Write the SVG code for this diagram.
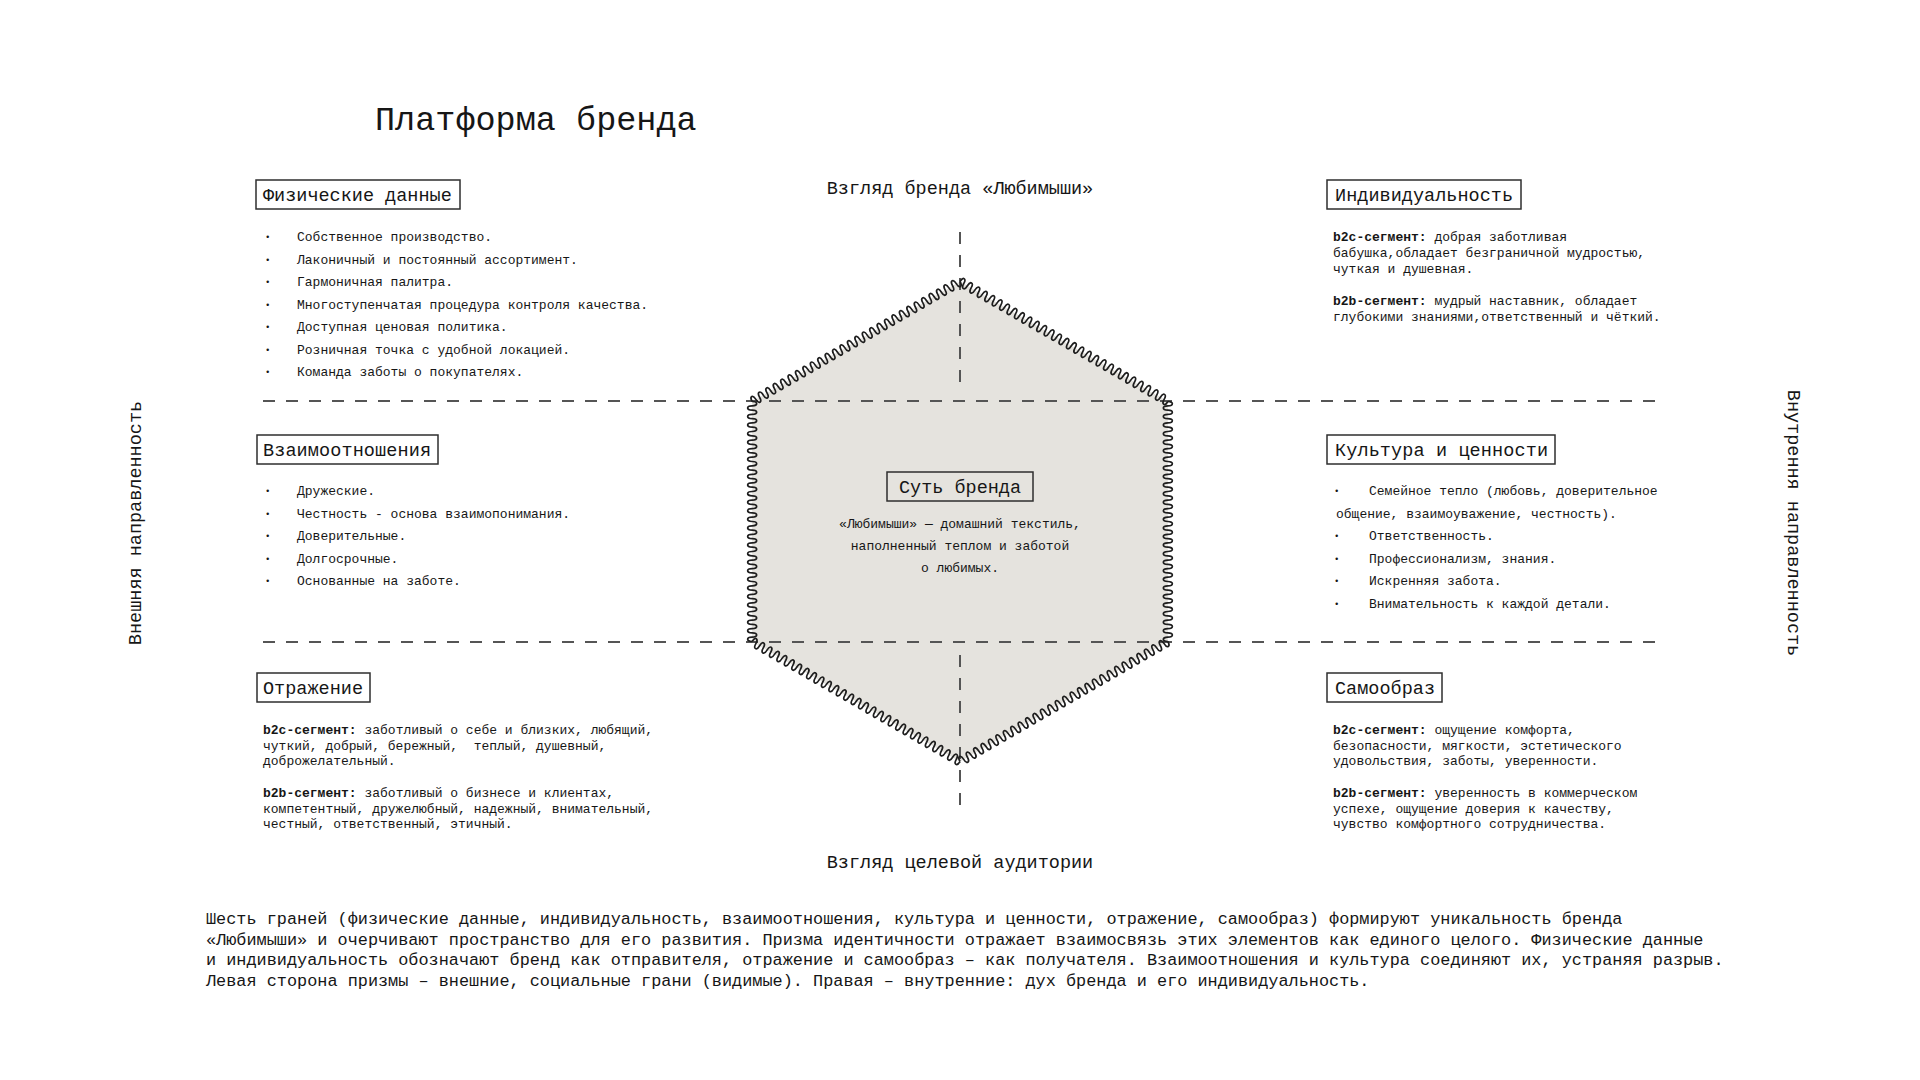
<svg xmlns="http://www.w3.org/2000/svg" xmlns:xlink="http://www.w3.org/1999/xlink" width="1920" height="1080" viewBox="0 0 1920 1080">
<style>
text{font-family:"Liberation Mono","DejaVu Sans Mono",monospace;fill:#161616;white-space:pre}
.title{font-size:33.5px}
.lbl{font-size:18.5px}
.body{font-size:13px}
.bul{font-size:9px}
.b{font-weight:700}
.para{font-size:16.87px}
.box{fill:#fff;stroke:#2e2e2e;stroke-width:1.5}
.cbox{fill:none;stroke:#2e2e2e;stroke-width:1.5}
.dash{stroke:#555;stroke-width:2;stroke-dasharray:12 11;fill:none}
.wave{fill:none;stroke:#1e1e1e;stroke-width:1.7}
</style>
<defs>
<path id="edge" class="wave" d="M0,0 c0,-6 4.2857,-6 4.2857,0 s4.2857,6 4.2857,0 s4.2857,-6 4.2857,0 s4.2857,6 4.2857,0 s4.2857,-6 4.2857,0 s4.2857,6 4.2857,0 s4.2857,-6 4.2857,0 s4.2857,6 4.2857,0 s4.2857,-6 4.2857,0 s4.2857,6 4.2857,0 s4.2857,-6 4.2857,0 s4.2857,6 4.2857,0 s4.2857,-6 4.2857,0 s4.2857,6 4.2857,0 s4.2857,-6 4.2857,0 s4.2857,6 4.2857,0 s4.2857,-6 4.2857,0 s4.2857,6 4.2857,0 s4.2857,-6 4.2857,0 s4.2857,6 4.2857,0 s4.2857,-6 4.2857,0 s4.2857,6 4.2857,0 s4.2857,-6 4.2857,0 s4.2857,6 4.2857,0 s4.2857,-6 4.2857,0 s4.2857,6 4.2857,0 s4.2857,-6 4.2857,0 s4.2857,6 4.2857,0 s4.2857,-6 4.2857,0 s4.2857,6 4.2857,0 s4.2857,-6 4.2857,0 s4.2857,6 4.2857,0 s4.2857,-6 4.2857,0 s4.2857,6 4.2857,0 s4.2857,-6 4.2857,0 s4.2857,6 4.2857,0 s4.2857,-6 4.2857,0 s4.2857,6 4.2857,0 s4.2857,-6 4.2857,0 s4.2857,6 4.2857,0 s4.2857,-6 4.2857,0 s4.2857,6 4.2857,0 s4.2857,-6 4.2857,0 s4.2857,6 4.2857,0 s4.2857,-6 4.2857,0 s4.2857,6 4.2857,0 s4.2857,-6 4.2857,0 s4.2857,6 4.2857,0 s4.2857,-6 4.2857,0 s4.2857,6 4.2857,0 s4.2857,-6 4.2857,0 s4.2857,6 4.2857,0 s4.2857,-6 4.2857,0 s4.2857,6 4.2857,0 s4.2857,-6 4.2857,0 s4.2857,6 4.2857,0"/>
</defs>
<rect width="1920" height="1080" fill="#fff"/>

<g id="title"><text class="title" x="375" y="130">Платформа бренда</text></g>

<g id="hexagon">
<polygon points="960,281.5 1167.85,401.5 1167.85,641.5 960,761.5 752.15,641.5 752.15,401.5" fill="#e5e3de"/>
</g>

<g id="connectors">
<line class="dash" x1="263" y1="401" x2="1659" y2="401"/>
<line class="dash" x1="263" y1="642" x2="1659" y2="642"/>
<line class="dash" x1="960" y1="232" x2="960" y2="390"/>
<line class="dash" x1="960" y1="655" x2="960" y2="812"/>
</g>

<g id="hexagon-edges">
<use xlink:href="#edge" transform="translate(960,281.5) rotate(30)"/>
<use xlink:href="#edge" transform="translate(1167.85,401.5) rotate(90)"/>
<use xlink:href="#edge" transform="translate(1167.85,641.5) rotate(150)"/>
<use xlink:href="#edge" transform="translate(960,761.5) rotate(210)"/>
<use xlink:href="#edge" transform="translate(752.15,641.5) rotate(270)"/>
<use xlink:href="#edge" transform="translate(752.15,401.5) rotate(-30)"/>
</g>

<g id="axis-top"><text class="lbl" x="960" y="194" text-anchor="middle">Взгляд бренда «Любимыши»</text></g>
<g id="axis-bottom"><text class="lbl" x="960" y="868" text-anchor="middle">Взгляд целевой аудитории</text></g>
<g id="axis-left"><text class="lbl" transform="translate(141,523) rotate(-90)" text-anchor="middle">Внешняя направленность</text></g>
<g id="axis-right"><text class="lbl" transform="translate(1788,523) rotate(90)" text-anchor="middle">Внутрення направленность</text></g>

<g id="physical">
<rect class="box" x="256" y="180" width="204" height="29"/>
<text class="lbl" x="263" y="200.5">Физические данные</text>
<text class="bul" x="265" y="240">•</text><text class="body" x="297" y="241">Собственное производство.</text>
<text class="bul" x="265" y="262.5">•</text><text class="body" x="297" y="263.5">Лаконичный и постоянный ассортимент.</text>
<text class="bul" x="265" y="285">•</text><text class="body" x="297" y="286">Гармоничная палитра.</text>
<text class="bul" x="265" y="307.5">•</text><text class="body" x="297" y="308.5">Многоступенчатая процедура контроля качества.</text>
<text class="bul" x="265" y="330">•</text><text class="body" x="297" y="331">Доступная ценовая политика.</text>
<text class="bul" x="265" y="352.5">•</text><text class="body" x="297" y="353.5">Розничная точка с удобной локацией.</text>
<text class="bul" x="265" y="375">•</text><text class="body" x="297" y="376">Команда заботы о покупателях.</text>
</g>

<g id="relations">
<rect class="box" x="257" y="435" width="181" height="29"/>
<text class="lbl" x="263" y="455.5" textLength="168">Взаимоотношения</text>
<text class="bul" x="265" y="494">•</text><text class="body" x="297" y="495">Дружеские.</text>
<text class="bul" x="265" y="516.5">•</text><text class="body" x="297" y="517.5">Честность - основа взаимопонимания.</text>
<text class="bul" x="265" y="539">•</text><text class="body" x="297" y="540">Доверительные.</text>
<text class="bul" x="265" y="561.5">•</text><text class="body" x="297" y="562.5">Долгосрочные.</text>
<text class="bul" x="265" y="584">•</text><text class="body" x="297" y="585">Основанные на заботе.</text>
</g>

<g id="reflection">
<rect class="box" x="257" y="673" width="113" height="29"/>
<text class="lbl" x="263" y="693.5" textLength="100">Отражение</text>
<text class="body" x="263" y="734"><tspan class="b">b2c-сегмент:</tspan> заботливый о себе и близких, любящий,</text>
<text class="body" x="263" y="749.5">чуткий, добрый, бережный,  теплый, душевный,</text>
<text class="body" x="263" y="765">доброжелательный.</text>
<text class="body" x="263" y="797"><tspan class="b">b2b-сегмент:</tspan> заботливый о бизнесе и клиентах,</text>
<text class="body" x="263" y="812.5">компетентный, дружелюбный, надежный, внимательный,</text>
<text class="body" x="263" y="828">честный, ответственный, этичный.</text>
</g>

<g id="personality">
<rect class="box" x="1327" y="180" width="194" height="29"/>
<text class="lbl" x="1335" y="200.5" textLength="178">Индивидуальность</text>
<text class="body" x="1333" y="240.5"><tspan class="b">b2c-сегмент:</tspan> добрая заботливая</text>
<text class="body" x="1333" y="256.5">бабушка,обладает безграничной мудростью,</text>
<text class="body" x="1333" y="272.5">чуткая и душевная.</text>
<text class="body" x="1333" y="304.5"><tspan class="b">b2b-сегмент:</tspan> мудрый наставник, обладает</text>
<text class="body" x="1333" y="320.5">глубокими знаниями,ответственный и чёткий.</text>
</g>

<g id="culture">
<rect class="box" x="1327" y="435" width="228" height="29"/>
<text class="lbl" x="1335" y="455.5" textLength="213">Культура и ценности</text>
<text class="bul" x="1334" y="494">•</text><text class="body" x="1369" y="495">Семейное тепло (любовь, доверительное</text>
<text class="body" x="1336" y="517.5">общение, взаимоуважение, честность).</text>
<text class="bul" x="1334" y="539">•</text><text class="body" x="1369" y="540">Ответственность.</text>
<text class="bul" x="1334" y="561.5">•</text><text class="body" x="1369" y="562.5">Профессионализм, знания.</text>
<text class="bul" x="1334" y="584">•</text><text class="body" x="1369" y="585">Искренняя забота.</text>
<text class="bul" x="1334" y="606.5">•</text><text class="body" x="1369" y="607.5">Внимательность к каждой детали.</text>
</g>

<g id="selfimage">
<rect class="box" x="1327" y="673" width="115" height="29"/>
<text class="lbl" x="1335" y="693.5" textLength="100">Самообраз</text>
<text class="body" x="1333" y="734"><tspan class="b">b2c-сегмент:</tspan> ощущение комфорта,</text>
<text class="body" x="1333" y="749.5">безопасности, мягкости, эстетического</text>
<text class="body" x="1333" y="765">удовольствия, заботы, уверенности.</text>
<text class="body" x="1333" y="797"><tspan class="b">b2b-сегмент:</tspan> уверенность в коммерческом</text>
<text class="body" x="1333" y="812.5">успехе, ощущение доверия к качеству,</text>
<text class="body" x="1333" y="828">чувство комфортного сотрудничества.</text>
</g>

<g id="essence">
<rect class="cbox" x="887" y="472" width="146" height="29"/>
<text class="lbl" x="960" y="493" text-anchor="middle">Суть бренда</text>
<text class="body" x="960" y="527.5" text-anchor="middle">«Любимыши» — домашний текстиль,</text>
<text class="body" x="960" y="549.5" text-anchor="middle">наполненный теплом и заботой</text>
<text class="body" x="960" y="571.5" text-anchor="middle">о любимых.</text>
</g>

<g id="description">
<text class="para" x="206" y="924">Шесть граней (физические данные, индивидуальность, взаимоотношения, культура и ценности, отражение, самообраз) формируют уникальность бренда</text>
<text class="para" x="206" y="944.5">«Любимыши» и очерчивают пространство для его развития. Призма идентичности отражает взаимосвязь этих элементов как единого целого. Физические данные</text>
<text class="para" x="206" y="965">и индивидуальность обозначают бренд как отправителя, отражение и самообраз – как получателя. Взаимоотношения и культура соединяют их, устраняя разрыв.</text>
<text class="para" x="206" y="985.5">Левая сторона призмы – внешние, социальные грани (видимые). Правая – внутренние: дух бренда и его индивидуальность.</text>
</g>
</svg>
